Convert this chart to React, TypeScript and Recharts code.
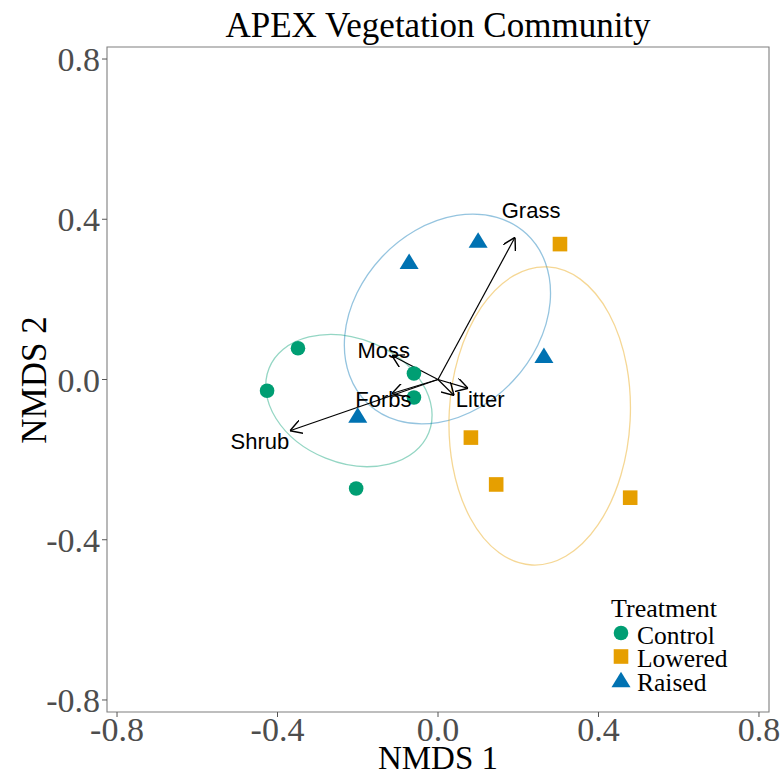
import React from "react";
import {
  ScatterChart,
  Scatter,
  XAxis,
  YAxis,
  ReferenceLine,
  ReferenceArea,
  Legend,
} from "recharts";

const SERIF = "'Liberation Serif', 'Times New Roman', serif";
const SANS = "'Liberation Sans', Arial, sans-serif";

const GREEN = "#009E73";
const ORANGE = "#E69F00";
const BLUE = "#0072B2";

// site scores per treatment
const control = [
  { x: -0.349, y: 0.078 },
  { x: -0.426, y: -0.028 },
  { x: -0.06, y: 0.015 },
  { x: -0.06, y: -0.045 },
  { x: -0.204, y: -0.272 },
];
const lowered = [
  { x: 0.304, y: 0.338 },
  { x: 0.082, y: -0.145 },
  { x: 0.145, y: -0.262 },
  { x: 0.479, y: -0.295 },
];
const raised = [
  { x: 0.1, y: 0.342 },
  { x: -0.072, y: 0.289 },
  { x: 0.264, y: 0.054 },
  { x: -0.2, y: -0.095 },
];

// envfit vector tips (arrows start at the origin)
const vectors = [
  { name: "Grass", x: 0.192, y: 0.355 },
  { name: "Shrub", x: -0.369, y: -0.128 },
  { name: "Moss", x: -0.115, y: 0.06 },
  { name: "Forbs", x: -0.115, y: -0.035 },
  { name: "Litter", x: 0.04, y: -0.04 },
  { name: "", x: 0.075, y: -0.022 },
];
const vectorLabels = [
  { name: "Grass", x: 0.232, y: 0.422 },
  { name: "Shrub", x: -0.444, y: -0.154 },
  { name: "Moss", x: -0.135, y: 0.0725 },
  { name: "Forbs", x: -0.136, y: -0.0475 },
  { name: "Litter", x: 0.105, y: -0.049 },
];

// group ellipses: major axis end points + minor semi-axis
const ellipses = [
  { group: "Control", from: [-0.421, 0.028], to: [-0.023, -0.133], minor: 0.155 },
  { group: "Raised", from: [-0.174, -0.061], to: [0.221, 0.363], minor: 0.225 },
  { group: "Lowered", from: [0.234, -0.463], to: [0.273, 0.281], minor: 0.226 },
];

const ticks = [-0.8, -0.4, 0, 0.4, 0.8];

const groups = [
  { name: "Control", color: GREEN, data: control },
  { name: "Lowered", color: ORANGE, data: lowered },
  { name: "Raised", color: BLUE, data: raised },
];
const colorOf: Record<string, string> = { Control: GREEN, Lowered: ORANGE, Raised: BLUE };

function Mark({ name, cx, cy, color }: any) {
  if (name === "Control") return <circle cx={cx} cy={cy} r={7.3} fill={color} />;
  if (name === "Lowered")
    return <rect x={cx - 7.3} y={cy - 7.3} width={14.6} height={14.6} fill={color} />;
  return (
    <polygon
      points={`${cx},${cy - 10.3} ${cx + 9.5},${cy + 5.2} ${cx - 9.5},${cy + 5.2}`}
      fill={color}
    />
  );
}

function LegendBox({ payload }: any) {
  const items = payload || [];
  return (
    <svg width={160} height={110} style={{ display: "block" }}>
      <text x={11} y={27} fontFamily={SERIF} fontSize={26} fill="#000">
        Treatment
      </text>
      {items.map((p: any, i: number) => (
        <g key={p.value}>
          <Mark
            name={p.value}
            cx={21}
            cy={43 + i * 23.5 + (p.value === "Raised" ? 2 : 0)}
            color={colorOf[p.value]}
          />
          <text x={37} y={54 + i * 23.3} fontFamily={SERIF} fontSize={25.5} fill="#000">
            {p.value}
          </text>
        </g>
      ))}
    </svg>
  );
}

export default function App() {
  return (
    <div style={{ position: "absolute", left: 0, top: 0, width: 784, height: 777, background: "#fff" }}>
      <svg width={0} height={0} style={{ position: "absolute" }}>
        <defs>
          <marker
            id="vec-head"
            viewBox="0 0 10 11.6"
            refX={10}
            refY={5.8}
            markerWidth={12}
            markerHeight={13.9}
            markerUnits="userSpaceOnUse"
            orient="auto"
          >
            <path d="M0,0 L10,5.8 L0,11.6" fill="none" stroke="#000" strokeWidth={1.2} />
          </marker>
        </defs>
      </svg>
      <ScatterChart
        width={784}
        height={777}
        margin={{ top: 47, right: 15, bottom: 0, left: 0 }}
      >
        <XAxis
          type="number"
          dataKey="x"
          domain={[-0.825, 0.825]}
          allowDataOverflow
          ticks={ticks}
          tickFormatter={(v: number) => v.toFixed(1)}
          height={65}
          tickSize={5}
          tickMargin={0}
          axisLine={false}
          tickLine={{ stroke: "#555" }}
          tick={{ fontFamily: SERIF, fontSize: 34, fill: "#4D4D4D" }}
        />
        <YAxis
          type="number"
          dataKey="y"
          domain={[-0.83, 0.83]}
          allowDataOverflow
          ticks={ticks}
          tickFormatter={(v: number) => v.toFixed(1)}
          width={107}
          tickSize={5}
          tickMargin={2}
          axisLine={false}
          tickLine={{ stroke: "#555" }}
          tick={{ fontFamily: SERIF, fontSize: 34, fill: "#4D4D4D" }}
        />
        <ReferenceArea
          x1={-0.825}
          x2={0.825}
          y1={-0.83}
          y2={0.83}
          fill="none"
          stroke="#7F7F7F"
          strokeWidth={1.1}
          fillOpacity={0}
        />
        {ellipses.map((e) => {
          const half = Math.hypot(e.to[0] - e.from[0], e.to[1] - e.from[1]) / 2;
          const ratio = e.minor / half;
          return (
            <ReferenceLine
              key={e.group}
              segment={[
                { x: e.from[0], y: e.from[1] },
                { x: e.to[0], y: e.to[1] },
              ]}
              shape={(p: any) => {
                const cx = (p.x1 + p.x2) / 2;
                const cy = (p.y1 + p.y2) / 2;
                const rx = Math.hypot(p.x2 - p.x1, p.y2 - p.y1) / 2;
                const ang = (Math.atan2(p.y2 - p.y1, p.x2 - p.x1) * 180) / Math.PI;
                return (
                  <ellipse
                    cx={cx}
                    cy={cy}
                    rx={rx}
                    ry={rx * ratio}
                    transform={`rotate(${ang} ${cx} ${cy})`}
                    fill="none"
                    stroke={colorOf[e.group]}
                    strokeOpacity={0.42}
                    strokeWidth={1.3}
                  />
                );
              }}
            />
          );
        })}
        {groups.map((g) => (
          <Scatter
            key={g.name}
            name={g.name}
            data={g.data}
            fill={g.color}
            isAnimationActive={false}
            shape={(p: any) => <Mark name={g.name} cx={p.cx} cy={p.cy} color={g.color} />}
          />
        ))}
        {vectors.map((v, i) => (
          <ReferenceLine
            key={"v" + i}
            segment={[
              { x: 0, y: 0 },
              { x: v.x, y: v.y },
            ]}
            shape={(p: any) => (
              <line
                x1={p.x1}
                y1={p.y1}
                x2={p.x2}
                y2={p.y2}
                stroke="#000"
                strokeWidth={1.2}
                markerEnd="url(#vec-head)"
              />
            )}
          />
        ))}
        <Scatter
          name="labels"
          data={vectorLabels}
          legendType="none"
          isAnimationActive={false}
          shape={(p: any) => (
            <text
              x={p.cx}
              y={p.cy}
              dy={8}
              textAnchor="middle"
              fontFamily={SANS}
              fontSize={22}
              fill="#000"
            >
              {p.payload.name}
            </text>
          )}
        />
        <Legend
          layout="vertical"
          align="center"
          verticalAlign="middle"
          wrapperStyle={{ left: 600, top: 590, width: 160, height: 110 }}
          content={(props: any) => (
            <LegendBox payload={(props.payload || []).filter((p: any) => colorOf[p.value])} />
          )}
        />
      </ScatterChart>
      <svg
        width={784}
        height={777}
        style={{ position: "absolute", left: 0, top: 0, pointerEvents: "none" }}
      >
        <text x={438} y={37} textAnchor="middle" fontFamily={SERIF} fontSize={35} fill="#000">
          APEX Vegetation Community
        </text>
        <text x={438} y={769} textAnchor="middle" fontFamily={SERIF} fontSize={33} fill="#000">
          NMDS 1
        </text>
        <text
          transform="translate(46,380) rotate(-90)"
          textAnchor="middle"
          fontFamily={SERIF}
          fontSize={35}
          fill="#000"
        >
          NMDS 2
        </text>
      </svg>
    </div>
  );
}
